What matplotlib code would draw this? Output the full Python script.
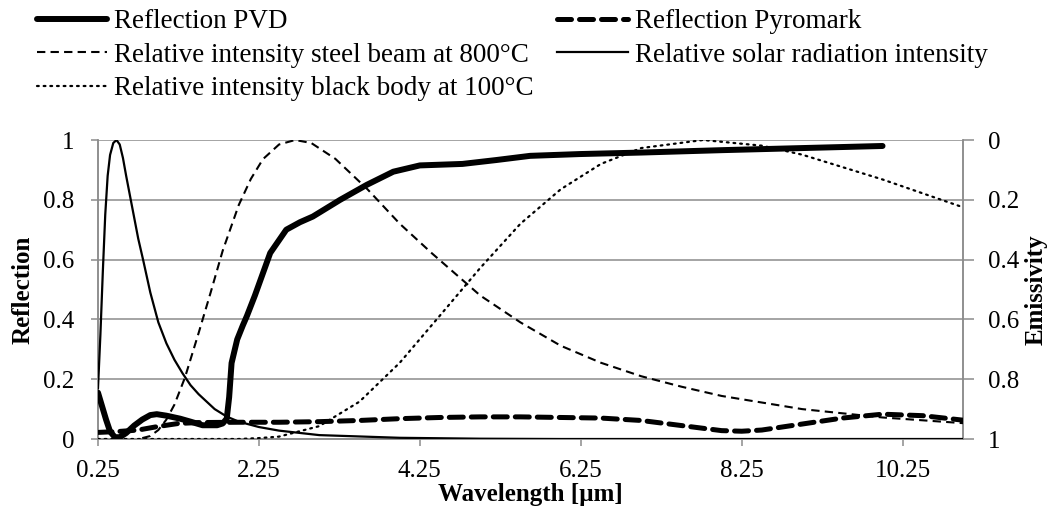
import matplotlib.pyplot as plt

plt.rcParams['font.family'] = ['Liberation Serif', 'DejaVu Serif']
plt.rcParams['font.size'] = 18

# reflection of the PVD coating
pvd_x = [0.25, 0.3, 0.35, 0.4, 0.46, 0.52, 0.6, 0.7, 0.8, 0.9, 0.98, 1.1, 1.27,
         1.4, 1.55, 1.73, 1.8, 1.85, 1.88, 1.91, 1.98, 2.05, 2.1, 2.2, 2.39,
         2.59, 2.76, 2.92, 3.26, 3.59, 3.92, 4.25, 4.78, 5.2, 5.62, 6.24, 7.0,
         8.0, 9.0, 10.0]
pvd_y = [0.155, 0.11, 0.065, 0.025, 0.006, 0.006, 0.02, 0.045, 0.065, 0.08,
         0.083, 0.078, 0.068, 0.058, 0.046, 0.046, 0.052, 0.068, 0.14, 0.254,
         0.333, 0.38, 0.411, 0.48, 0.622, 0.70, 0.725, 0.744, 0.80, 0.85, 0.894,
         0.915, 0.92, 0.933, 0.947, 0.953, 0.958, 0.966, 0.973, 0.98]

# reflection of Pyromark
pyro_x = [0.25, 0.5, 0.75, 1.0, 1.25, 1.5, 2.0, 2.5, 3.0, 3.5, 4.0, 4.5, 5.0,
          5.5, 6.0, 6.5, 7.0, 7.5, 8.0, 8.25, 8.5, 9.0, 9.5, 10.0, 10.5, 11.0]
pyro_y = [0.022, 0.025, 0.03, 0.042, 0.052, 0.055, 0.056, 0.056, 0.058, 0.062,
          0.068, 0.072, 0.074, 0.074, 0.072, 0.07, 0.062, 0.045, 0.028, 0.026,
          0.03, 0.05, 0.07, 0.083, 0.078, 0.063]

# relative intensity, steel beam at 800 degC
steel_x = [0.8, 0.9, 1.0, 1.1, 1.2, 1.33, 1.5, 1.65, 1.8, 2.0, 2.15, 2.3, 2.5,
           2.7, 2.9, 3.2, 3.6, 4.0, 4.4, 5.0, 5.5, 6.0, 6.5, 7.0, 7.5, 8.0,
           9.0, 10.0, 11.0]
steel_y = [0.003, 0.01, 0.03, 0.065, 0.115, 0.205, 0.354, 0.49, 0.63, 0.783,
           0.87, 0.936, 0.985, 1.0, 0.99, 0.937, 0.835, 0.72, 0.621, 0.48, 0.39,
           0.312, 0.255, 0.21, 0.175, 0.144, 0.1, 0.072, 0.053]

# relative solar radiation intensity
sun_x = [0.25, 0.28, 0.31, 0.34, 0.37, 0.4, 0.44, 0.48, 0.52, 0.56, 0.6, 0.65,
         0.7, 0.75, 0.81, 0.9, 1.0, 1.1, 1.2, 1.3, 1.4, 1.5, 1.6, 1.7, 1.85,
         2.0, 2.25, 2.5, 3.0, 4.0, 5.0, 6.0, 8.0, 11.0]
sun_y = [0.17, 0.35, 0.56, 0.75, 0.88, 0.95, 0.99, 1.0, 0.985, 0.94, 0.88,
         0.81, 0.74, 0.67, 0.6, 0.49, 0.39, 0.32, 0.265, 0.22, 0.18, 0.15,
         0.125, 0.1, 0.075, 0.058, 0.04, 0.028, 0.013, 0.004, 0.001, 0.0, 0.0,
         0.0]

# relative intensity, black body at 100 degC
bb_x = [0.25, 1.0, 2.0, 2.25, 2.5, 3.0, 3.5, 4.0, 4.5, 5.0, 5.5, 6.0, 6.5,
        7.0, 7.77, 8.5, 9.0, 10.0, 11.0]
bb_y = [0.0, 0.0, 0.0, 0.003, 0.008, 0.043, 0.125, 0.255, 0.413, 0.572, 0.72,
        0.835, 0.92, 0.973, 1.0, 0.981, 0.951, 0.868, 0.775]

x_ticks = [0.25, 2.25, 4.25, 6.25, 8.25, 10.25]
y_ticks = [0, 0.2, 0.4, 0.6, 0.8, 1]
y_labels = ['0', '0.2', '0.4', '0.6', '0.8', '1']

fig = plt.figure(figsize=(10.5, 5.08), dpi=100)
ax = fig.add_axes([98/1050, 69/508, 865/1050, 299/508])

grey = '#8c8c8c'
l_pvd, = ax.plot(pvd_x, pvd_y, color='black', lw=4.3, solid_capstyle='round',
                 solid_joinstyle='round', zorder=6, label='Reflection PVD')
l_pyro, = ax.plot(pyro_x, pyro_y, color='black', lw=3.6, ls=(0, (2.8, 1.6)),
                  dash_capstyle='round', zorder=5, label='Reflection Pyromark')
l_steel, = ax.plot(steel_x, steel_y, color='black', lw=1.5, ls=(0, (4, 2.5)),
                   zorder=4, label='Relative intensity steel beam at 800°C')
l_sun, = ax.plot(sun_x, sun_y, color='black', lw=1.6, zorder=4,
                 solid_joinstyle='round',
                 label='Relative solar radiation intensity')
l_bb, = ax.plot(bb_x, bb_y, color='black', lw=1.6, ls=(0, (0.8, 2.2)),
                dash_capstyle='round', zorder=4,
                label='Relative intensity black body at 100°C')

ax.set_xlim(0.25, 11.0)
ax.set_ylim(0, 1)
ax.set_xticks(x_ticks)
ax.set_xticklabels([f'{t:.2f}' for t in x_ticks])
ax.set_yticks(y_ticks)
ax.set_yticklabels(y_labels)
ax.yaxis.grid(True, color=grey, lw=1.1)
ax.set_axisbelow(True)
ax.spines['top'].set_visible(False)
for s in ['left', 'bottom', 'right']:
    ax.spines[s].set_color(grey)
    ax.spines[s].set_linewidth(1.1)
ax.tick_params(axis='x', colors=grey, length=5, width=1.1, pad=10, labelcolor='black')
ax.tick_params(axis='y', colors=grey, length=5, width=1.1, pad=12, labelcolor='black')
ax.set_xlabel('Wavelength [µm]', fontweight='bold', labelpad=1)
ax.set_ylabel('Reflection', fontweight='bold', labelpad=6)

# emissivity = 1 - reflection on the right
ax2 = ax.twinx()
ax2.set_ylim(1, 0)
ax2.set_yticks(y_ticks)
ax2.set_yticklabels(y_labels)
ax2.spines['top'].set_visible(False)
for s in ['left', 'bottom', 'right']:
    ax2.spines[s].set_color(grey)
    ax2.spines[s].set_linewidth(1.1)
ax2.tick_params(axis='y', colors=grey, length=8, width=1.1, pad=10, labelcolor='black')
ax2.set_ylabel('Emissivity', fontweight='bold', labelpad=4)
ax.set_zorder(ax2.get_zorder() + 1)
ax.patch.set_visible(False)

handles = [l_pvd, l_steel, l_bb, l_pyro, l_sun]
fig.legend(handles=handles, labels=[h.get_label() for h in handles], ncol=2,
           loc='upper left', bbox_to_anchor=(37/1050, 1 - 9/508),
           frameon=False, borderpad=0, borderaxespad=0, fontsize=19.5,
           handlelength=2.6, handletextpad=0.26, columnspacing=0.85,
           labelspacing=0.32)

plt.savefig('out.png', dpi=100)
